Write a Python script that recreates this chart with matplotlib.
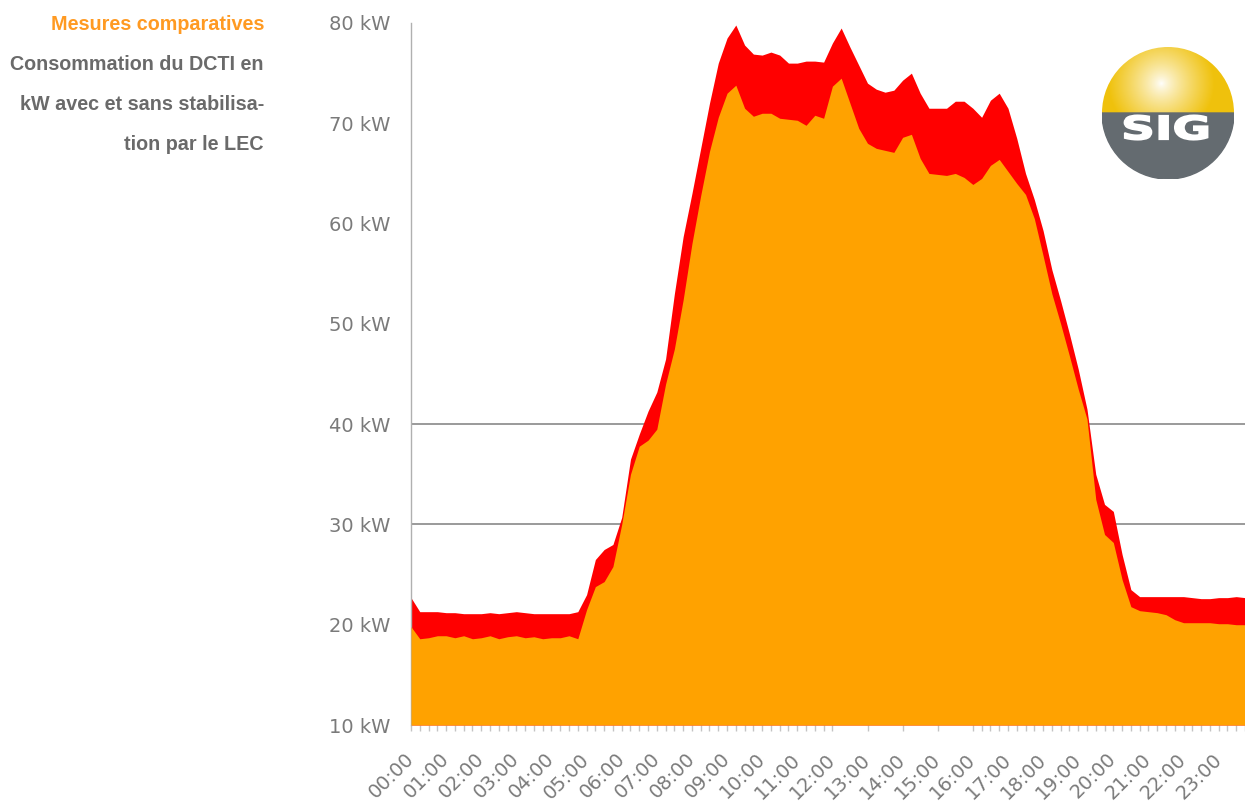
import numpy as np
import matplotlib
matplotlib.use("Agg")
import matplotlib.pyplot as plt
from matplotlib.patches import Wedge, PathPatch
from matplotlib.textpath import TextPath
from matplotlib.font_manager import FontProperties
from matplotlib.transforms import Affine2D


# 15-minute readings, 00:00 .. 23:45 (kW)
sans_stabilisation = [
    22.7, 21.3, 21.3, 21.3, 21.2, 21.2, 21.1, 21.1,
    21.1, 21.2, 21.1, 21.2, 21.3, 21.2, 21.1, 21.1,
    21.1, 21.1, 21.1, 21.3, 23.0, 26.5, 27.5, 28.0,
    30.7, 36.5, 39.0, 41.3, 43.2, 46.5, 53.0, 58.7,
    63.0, 67.5, 72.0, 76.0, 78.5, 79.8, 77.8, 76.9,
    76.8, 77.1, 76.8, 76.0, 76.0, 76.2, 76.2, 76.1,
    78.0, 79.5, 77.6, 75.8, 74.0, 73.4, 73.1, 73.3,
    74.3, 75.0, 73.0, 71.5, 71.5, 71.5, 72.2, 72.2,
    71.5, 70.6, 72.3, 73.0, 71.5, 68.5, 65.0, 62.4,
    59.3, 55.4, 52.3, 49.0, 45.5, 41.5, 35.0, 32.0,
    31.3, 27.0, 23.5, 22.8, 22.8, 22.8, 22.8, 22.8,
    22.8, 22.7, 22.6, 22.6, 22.7, 22.7, 22.8, 22.7,
]
avec_stabilisation = [
    19.8, 18.6, 18.7, 18.9, 18.9, 18.7, 18.9, 18.6,
    18.7, 18.9, 18.6, 18.8, 18.9, 18.7, 18.8, 18.6,
    18.7, 18.7, 18.9, 18.6, 21.5, 23.8, 24.3, 25.8,
    30.0, 35.0, 37.8, 38.4, 39.5, 44.0, 47.5, 52.4,
    58.0, 62.8, 67.2, 70.6, 73.0, 73.8, 71.5, 70.7,
    71.0, 71.0, 70.5, 70.4, 70.3, 69.8, 70.8, 70.5,
    73.7, 74.5, 72.0, 69.5, 68.0, 67.5, 67.3, 67.1,
    68.6, 68.9, 66.5, 65.0, 64.9, 64.8, 65.0, 64.6,
    63.9, 64.5, 65.8, 66.4, 65.2, 64.0, 62.9, 60.5,
    56.8, 53.0, 50.0, 46.8, 43.5, 40.5, 32.5, 29.0,
    28.2, 24.5, 21.8, 21.4, 21.3, 21.2, 21.0, 20.5,
    20.2, 20.2, 20.2, 20.2, 20.1, 20.1, 20.0, 20.0,
]
hour_labels = [f"{h:02d}:00" for h in range(24)]
y_levels = [10, 20, 30, 40, 50, 60, 70, 80]
grid_levels = [30, 40]

title_lines = [
    "Mesures comparatives",
    "Consommation du DCTI en",
    "kW avec et sans stabilisa-",
    "tion par le LEC",
]

W, H = 1245, 805
fig = plt.figure(figsize=(W / 100, H / 100), dpi=100)
fig.patch.set_facecolor("white")

ax = fig.add_axes([411 / W, 1 - 725 / H, 1 - 411 / W, (725 - 23) / H])
x = np.arange(len(sans_stabilisation))
ax.fill_between(x, 10, sans_stabilisation, color="#ff0000", lw=0, zorder=2)
ax.fill_between(x, 10, avec_stabilisation, color="#ffa200", lw=0, zorder=3)
for level in grid_levels:
    ax.axhline(level, color="#9a9a9a", lw=1.4, zorder=1)

ax.set_xlim(0, len(x) - 1)
ax.set_ylim(10, 80)
ax.set_yticks(y_levels)
ax.set_yticklabels([f"{v} kW" for v in y_levels])
ax.tick_params(axis="y", length=0, pad=15, labelsize=14, labelcolor="#7a7a7a")

ax.set_xticks(x[::4])
ax.set_xticklabels(hour_labels)
minor = [i for i in x if i % 4 and not (49 <= i <= 63)]
ax.set_xticks(minor, minor=True)
ax.tick_params(axis="x", which="both", length=4.5, width=1, color="#c4c4c4",
               pad=18, labelsize=14, labelcolor="#7a7a7a")
plt.setp(ax.get_xticklabels(), rotation=45, ha="right", va="center",
         rotation_mode="anchor")

for side in ("top", "right", "bottom"):
    ax.spines[side].set_visible(False)
ax.spines["left"].set_color("#b0b0b0")
ax.spines["left"].set_linewidth(1)
ax.set_facecolor("white")

# text block on the left
for k, line in enumerate(title_lines):
    fig.text(264 / W, 1 - (25 + 40 * k) / H, line, ha="right", va="center",
             fontsize=14.2, fontweight="bold", family="Liberation Sans",
             color="#ff9a22" if k == 0 else "#6a6a6a")

# SIG logo
lx, ly, r = 1168, 113, 66
logo = fig.add_axes([(lx - r) / W, 1 - (ly + r) / H, 2 * r / W, 2 * r / H])
logo.set_xlim(-1, 1)
logo.set_ylim(-1, 1)
logo.axis("off")
yy, xx = np.mgrid[-1:1:300j, -1:1:300j]
dist = np.clip(np.hypot(xx + 0.1, yy - 0.45) / 0.8, 0, 1) ** 0.8
yellow = np.array([0.94, 0.76, 0.05])
img = (1 - dist[..., None]) * np.ones(3) + dist[..., None] * yellow
im = logo.imshow(img, extent=(-1, 1, -1, 1), origin="lower", zorder=1)
im.set_clip_path(Wedge((0, 0), 1, 0, 180, transform=logo.transData))
logo.add_patch(Wedge((0, 0), 1, 180, 360, color="#646b70", zorder=2))
tp = TextPath((0, 0), "SIG", size=1,
              prop=FontProperties(family="DejaVu Sans", weight="heavy"))
bb = tp.get_extents()
tr = (Affine2D().translate(-bb.x0 - bb.width / 2, -bb.y0 - bb.height / 2)
      .scale(1.26 / bb.width, 0.37 / bb.height).translate(-0.03, -0.22))
logo.add_patch(PathPatch(tr.transform_path(tp), facecolor="white",
                         edgecolor="white", lw=1.2, zorder=3))

fig.savefig("out.png", dpi=100)
